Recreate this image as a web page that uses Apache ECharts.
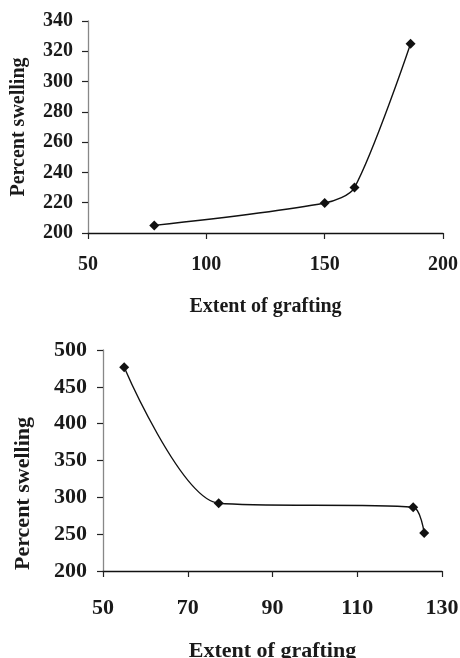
<!DOCTYPE html>
<html>
<head>
<meta charset="utf-8">
<script src="https://cdn.jsdelivr.net/npm/echarts@6/dist/echarts.min.js"></script>
<style>html,body{margin:0;padding:0;background:#fff}#c{width:460px;height:658px}</style>
</head>
<body>
<div id="c"></div>
<script>
// Top chart data
var topX = [78, 150, 162.6, 186.3];
var topY = [205, 219.8, 230, 325];
// Bottom chart data
var botX = [55, 77.3, 123.2, 125.8];
var botY = [476.5, 292, 286.6, 251.5];

var xTitle = 'Extent of grafting';
var yTitle = 'Percent swelling';

function pairs(xs, ys) { return xs.map(function (x, i) { return [x, ys[i]]; }); }

var FONT = '"Liberation Serif", "Times New Roman", serif';
function axisCommon(fs, lineColor) {
  return {
    type: 'value',
    splitLine: { show: false },
    axisLine: { show: true, lineStyle: { color: lineColor, width: 1.3 } },
    axisTick: { show: true, inside: false, length: 6, lineStyle: { color: '#222', width: 1.2 } },
    axisLabel: { color: '#1a1a1a', fontFamily: FONT, fontWeight: 'bold', fontSize: fs },
    nameLocation: 'middle',
    nameTextStyle: { color: '#1a1a1a', fontFamily: FONT, fontWeight: 'bold', fontSize: fs }
  };
}
function mk(base, extra) {
  var o = JSON.parse(JSON.stringify(base));
  for (var k in extra) {
    if (typeof extra[k] === 'object' && !Array.isArray(extra[k]) && o[k]) {
      for (var j in extra[k]) o[k][j] = extra[k][j];
    } else o[k] = extra[k];
  }
  return o;
}

var chart = echarts.init(document.getElementById('c'), null, { renderer: 'canvas' });
chart.setOption({
  animation: false,
  backgroundColor: '#fff',
  grid: [
    { left: 88, right: 17, top: 21, height: 212, containLabel: false, outerBoundsMode: 'none' },
    { left: 103, right: 18, top: 350, height: 221, containLabel: false, outerBoundsMode: 'none' }
  ],
  xAxis: [
    mk(axisCommon(20, '#111'), { gridIndex: 0, min: 50, max: 200, interval: 50, name: xTitle, nameGap: 64,
      axisLabel: { margin: 22 } }),
    mk(axisCommon(22, '#111'), { gridIndex: 1, min: 50, max: 130, interval: 20, name: xTitle, nameGap: 69,
      axisLabel: { margin: 26 } })
  ],
  yAxis: [
    mk(axisCommon(20, '#888'), { gridIndex: 0, min: 200, max: 340, interval: 20, name: yTitle, nameGap: 59,
      axisLabel: { margin: 15 } }),
    mk(axisCommon(22, '#888'), { gridIndex: 1, min: 200, max: 500, interval: 50, name: yTitle, nameGap: 69,
      axisLabel: { margin: 16 }, nameTextStyle: { padding: [0, 66, 0, 0] } })
  ],
  series: [
    { type: 'line', xAxisIndex: 0, yAxisIndex: 0, data: pairs(topX, topY), smooth: 0.28,
      symbol: 'diamond', symbolSize: 10, lineStyle: { color: '#111', width: 1.4 },
      itemStyle: { color: '#111' } },
    { type: 'line', xAxisIndex: 1, yAxisIndex: 1, data: pairs(botX, botY), smooth: 0.28,
      symbol: 'diamond', symbolSize: 10, lineStyle: { color: '#111', width: 1.4 },
      itemStyle: { color: '#111' } }
  ]
});
</script>
</body>
</html>
